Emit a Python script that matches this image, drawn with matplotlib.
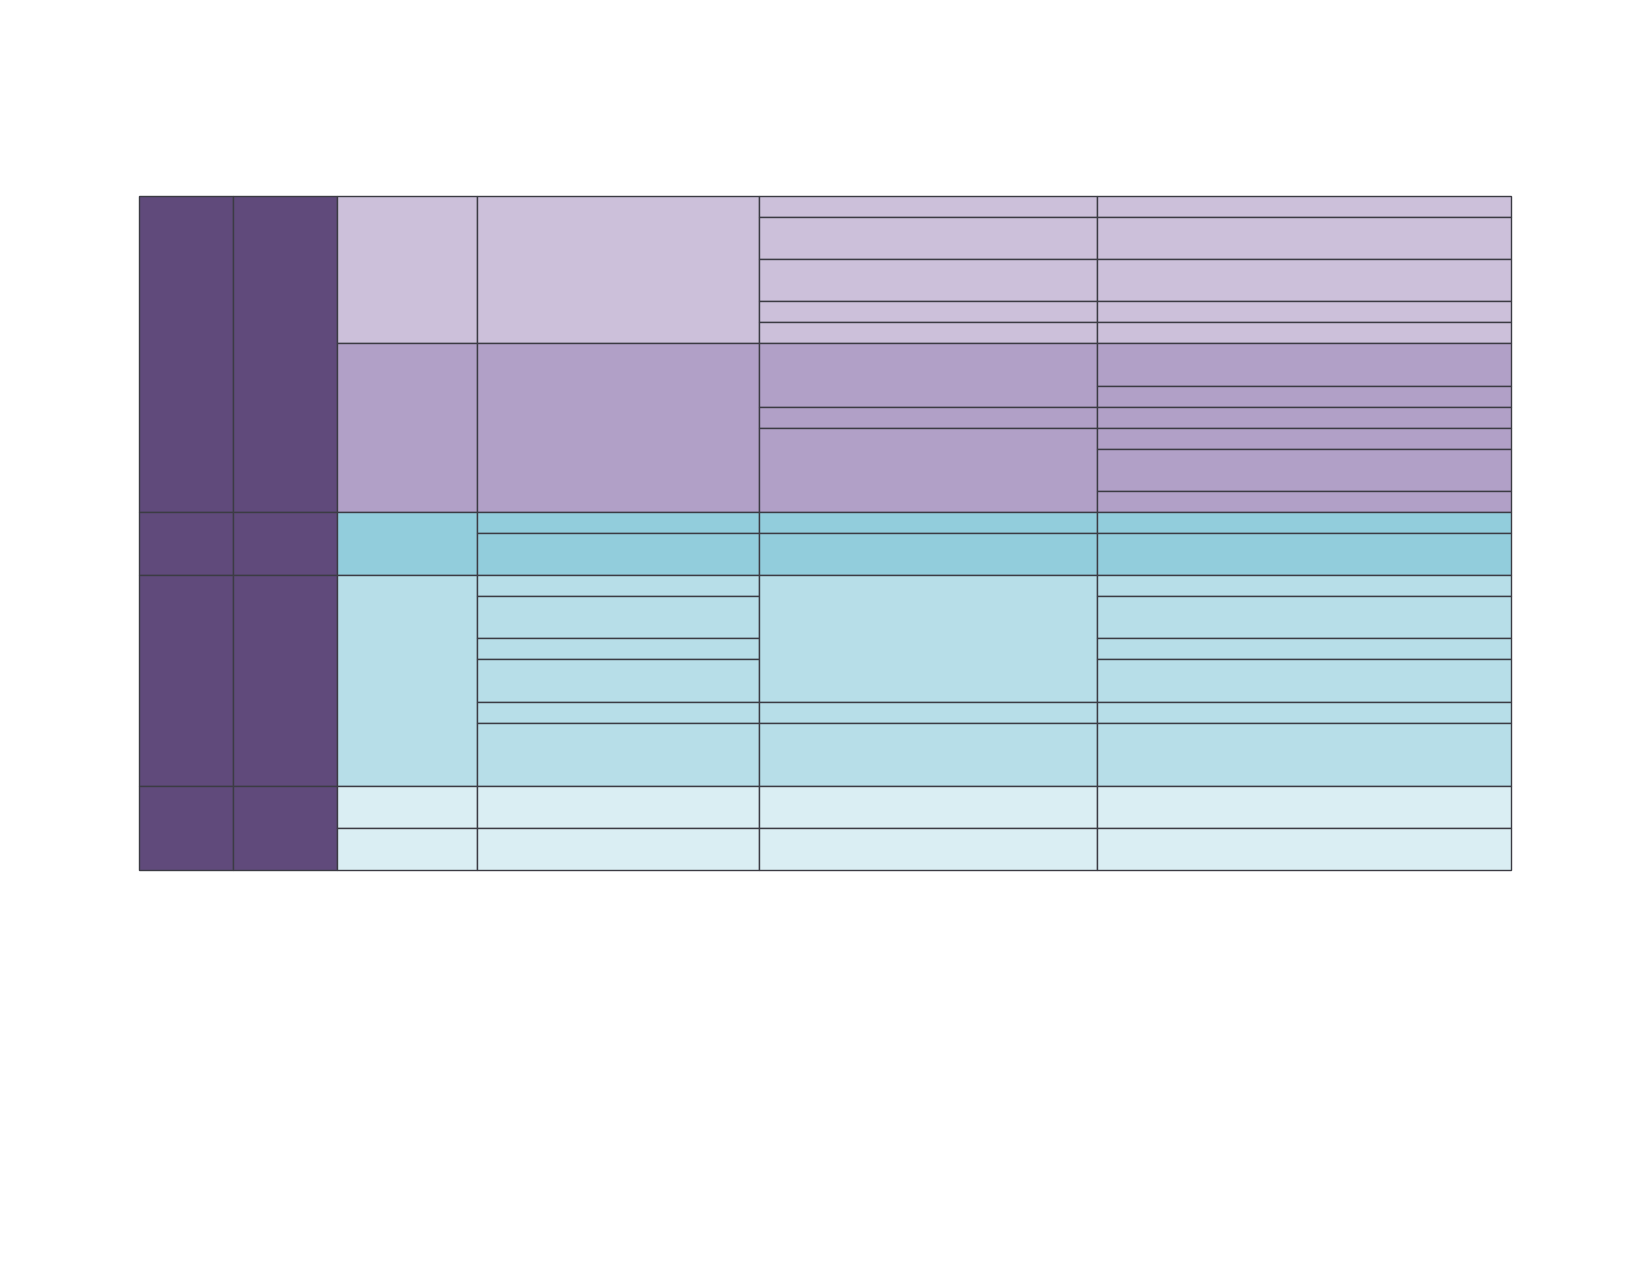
import matplotlib
matplotlib.use("Agg")
import matplotlib.pyplot as plt
from matplotlib.patches import Rectangle

# Table structure (empty cells, no text in the reference)
col_widths = [93.8, 104, 140, 282, 338, 414.5]
n_rows = 32
palette = {
    "dark": "#604A7B",
    "lpur": "#CCC0DA",
    "mpur": "#B1A0C7",
    "teal": "#92CDDC",
    "lblue": "#B7DEE8",
    "vlight": "#DAEEF3",
}
# per column: list of (row_start, row_end, colour key)
col0 = [(0, 15, "dark"), (15, 18, "dark"), (18, 28, "dark"), (28, 32, "dark")]
col1 = [(0, 15, "dark"), (15, 18, "dark"), (18, 28, "dark"), (28, 32, "dark")]
col2 = [(0, 7, "lpur"), (7, 15, "mpur"), (15, 18, "teal"), (18, 28, "lblue"),
        (28, 30, "vlight"), (30, 32, "vlight")]
col3 = [(0, 7, "lpur"), (7, 15, "mpur"), (15, 16, "teal"), (16, 18, "teal"),
        (18, 19, "lblue"), (19, 21, "lblue"), (21, 22, "lblue"), (22, 24, "lblue"),
        (24, 25, "lblue"), (25, 28, "lblue"), (28, 30, "vlight"), (30, 32, "vlight")]
col4 = [(0, 1, "lpur"), (1, 3, "lpur"), (3, 5, "lpur"), (5, 6, "lpur"), (6, 7, "lpur"),
        (7, 10, "mpur"), (10, 11, "mpur"), (11, 15, "mpur"),
        (15, 16, "teal"), (16, 18, "teal"),
        (18, 24, "lblue"), (24, 25, "lblue"), (25, 28, "lblue"),
        (28, 30, "vlight"), (30, 32, "vlight")]
col5 = [(0, 1, "lpur"), (1, 3, "lpur"), (3, 5, "lpur"), (5, 6, "lpur"), (6, 7, "lpur"),
        (7, 9, "mpur"), (9, 10, "mpur"), (10, 11, "mpur"), (11, 12, "mpur"),
        (12, 14, "mpur"), (14, 15, "mpur"),
        (15, 16, "teal"), (16, 18, "teal"),
        (18, 19, "lblue"), (19, 21, "lblue"), (21, 22, "lblue"), (22, 24, "lblue"),
        (24, 25, "lblue"), (25, 28, "lblue"),
        (28, 30, "vlight"), (30, 32, "vlight")]
columns = [col0, col1, col2, col3, col4, col5]

fig = plt.figure(figsize=(16.5, 12.75), dpi=100)
total_w = sum(col_widths)
ax = fig.add_axes([139 / 1650, 1 - 870 / 1275, total_w / 1650, 674 / 1275])
ax.set_xlim(0, total_w)
ax.set_ylim(n_rows, 0)
ax.axis("off")

x = 0
for w, segs in zip(col_widths, columns):
    for r0, r1, key in segs:
        ax.add_patch(Rectangle((x, r0), w, r1 - r0, facecolor=palette[key],
                               edgecolor="#3c3c44", linewidth=1.0, clip_on=False))
    x += w

fig.savefig("out.png", dpi=100)
